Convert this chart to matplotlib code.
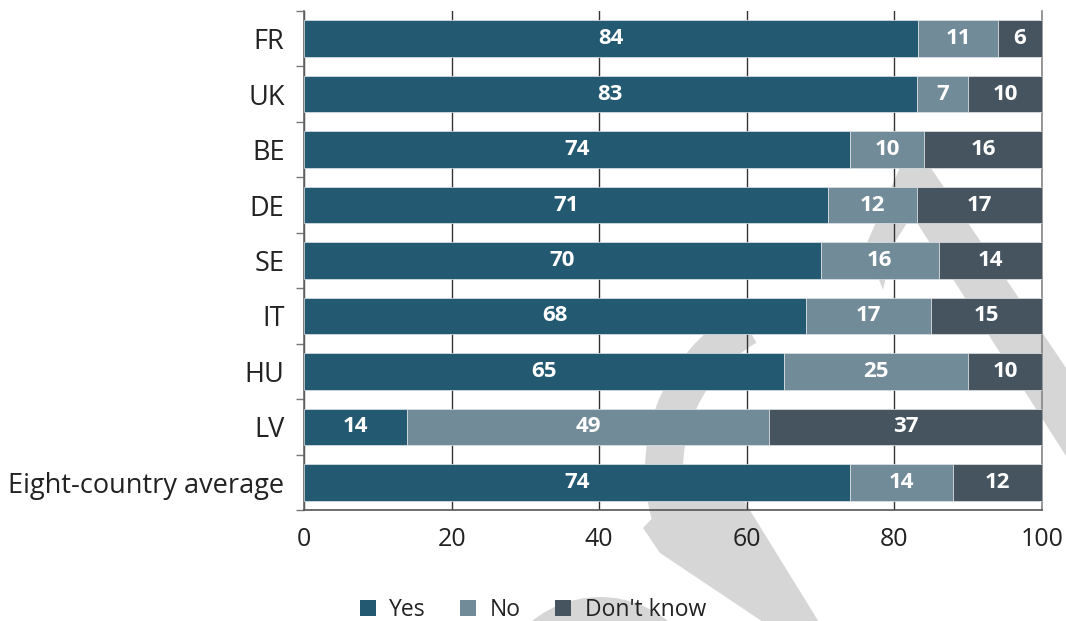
import matplotlib
matplotlib.use("Agg")
import matplotlib.pyplot as plt
from matplotlib.patches import Polygon, Wedge, Circle, Patch
import numpy as np

# --- dados ---
paises = ['FR', 'UK', 'BE', 'DE', 'SE', 'IT', 'HU', 'LV', 'Eight-country average']
sim = [84, 83, 74, 71, 70, 68, 65, 14, 74]
nao = [11, 7, 10, 12, 16, 17, 25, 49, 14]
nao_sabe = [6, 10, 16, 17, 14, 15, 10, 37, 12]
series = ['Yes', 'No', "Don't know"]
cores = ['#245a71', '#728b98', '#45545f']
xticks = [0, 20, 40, 60, 80, 100]

plt.rcParams['font.family'] = ['Open Sans', 'DejaVu Sans']
texto = '#222222'

fig = plt.figure(figsize=(10.66, 6.21), dpi=100)

# --- marca d'agua decorativa (coordenadas em pixels da figura) ---
bg = fig.add_axes([0, 0, 1, 1], zorder=0)
bg.set_xlim(0, 1066)
bg.set_ylim(621, 0)
bg.axis('off')
cinza = '#d6d6d6'
bg.add_patch(Polygon([(883, 290), (866, 245), (912, 140), (1135, 470),
                      (1075, 470), (912, 215), (893, 245)], closed=True,
                     facecolor=cinza, edgecolor='none'))
bg.add_patch(Wedge((830, 470), 185, 160, 240, width=38,
                   facecolor=cinza, edgecolor='none'))
bg.add_patch(Polygon([(643, 528), (690, 478), (722, 465), (830, 640),
                      (790, 640), (660, 553)], closed=True,
                     facecolor=cinza, edgecolor='none'))
bg.add_patch(Circle((600, 705), 108, facecolor=cinza, edgecolor='none'))

# --- grafico principal ---
ax = fig.add_axes([0.2852, 0.1787, 0.6923, 0.8036], zorder=1)
ax.set_facecolor('none')

# cada linha e normalizada para 100% (FR soma 101)
dados = np.array([sim, nao, nao_sabe], dtype=float)
totais = dados.sum(axis=0)
y = np.arange(len(paises))
esquerda = np.zeros(len(paises))
for valores, nome, cor in zip(dados, series, cores):
    larguras = valores / totais * 100
    ax.barh(y, larguras, left=esquerda, height=0.66, color=cor,
            edgecolor='#dfe5e8', linewidth=0.5, label=nome, zorder=3)
    for yi, l, w, v in zip(y, esquerda, larguras, valores):
        ax.text(l + w / 2, yi, str(int(v)), ha='center', va='center',
                color='white', fontsize=16, fontweight='bold', zorder=4)
    esquerda = esquerda + larguras

ax.set_xlim(0, 100)
ax.set_ylim(len(paises) - 0.5, -0.5)
ax.set_xticks(xticks)
ax.set_yticks(y)
ax.set_yticklabels(paises)
ax.set_yticks(np.arange(-0.5, len(paises)), minor=True)
ax.tick_params(axis='y', which='major', length=0, pad=14, labelsize=19.5,
               labelcolor=texto)
ax.tick_params(axis='y', which='minor', length=6, width=1, color='#777777',
               direction='out')
ax.tick_params(axis='x', length=0, pad=12, labelsize=18, labelcolor=texto)

ax.grid(axis='x', color='#333333', linewidth=1, zorder=1)
ax.set_axisbelow(True)
ax.spines['top'].set_visible(False)
ax.spines['left'].set_color('#666666')
ax.spines['bottom'].set_color('#555555')
ax.spines['right'].set_color('#888888')
for s in ['left', 'bottom', 'right']:
    ax.spines[s].set_linewidth(1.2)

handles = [Patch(facecolor=c, edgecolor='none') for c in cores]
fig.legend(handles, series, loc='lower center', bbox_to_anchor=(0.5, -0.035),
           ncol=3, frameon=False, fontsize=16.5, handlelength=0.7,
           handleheight=0.7, columnspacing=1.5, handletextpad=0.6,
           labelcolor=texto)

fig.savefig('out.png', dpi=100)
plt.close(fig)
